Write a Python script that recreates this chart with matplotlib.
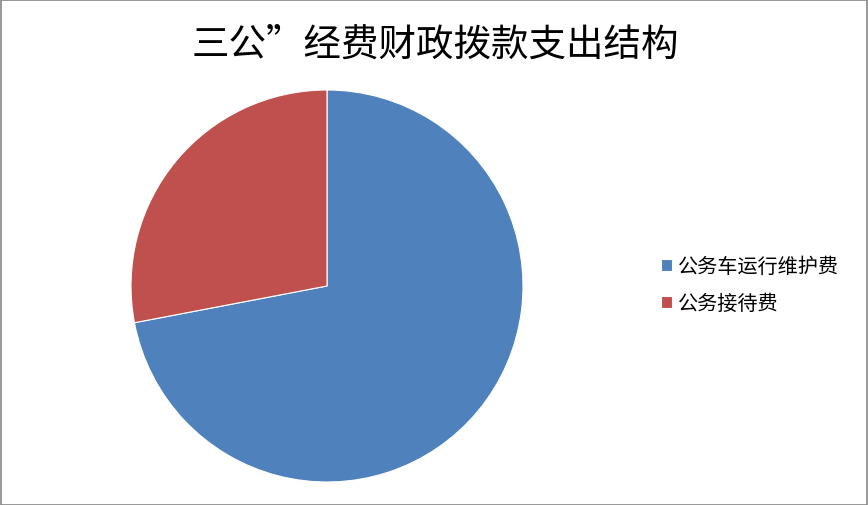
import matplotlib
matplotlib.use("Agg")
from matplotlib import pyplot as plt
from matplotlib.patches import Rectangle

plt.rcParams["font.family"] = ["Noto Sans CJK SC", "DejaVu Sans"]

title = "三公”经费财政拨款支出结构"
labels = ["公务车运行维护费", "公务接待费"]
values = [72, 28]
colors = ["#4F81BD", "#C0504D"]

W, H = 868, 506
fig = plt.figure(figsize=(W / 100, H / 100), dpi=100)

# pie centre (327, 287) px, radius 196 px
cx, cy, r = 327, 287, 196
ax = fig.add_axes([(cx - r) / W, (H - cy - r) / H, 2 * r / W, 2 * r / H])
wedges, _ = ax.pie(values, colors=colors, startangle=90, counterclock=False,
                   radius=1.0, wedgeprops=dict(edgecolor="white", linewidth=0.8))
ax.set_xlim(-1, 1)
ax.set_ylim(-1, 1)
ax.set_aspect("equal")
ax.axis("off")

fig.text(435 / W, 1 - 45 / H, title, ha="center", va="center", fontsize=27)

fig.legend(wedges, labels, loc="center left",
           bbox_to_anchor=(643 / W, 1 - 286 / H), frameon=False,
           fontsize=14.5, handlelength=0.55, handleheight=0.55,
           handletextpad=0.3, labelspacing=0.8)

fig.add_artist(Rectangle((0.5 / W, 0.5 / H), 1 - 1.5 / W, 1 - 1.5 / H,
                         transform=fig.transFigure, fill=False,
                         edgecolor="#868686", linewidth=1.2))

fig.savefig("out.png", dpi=100)
